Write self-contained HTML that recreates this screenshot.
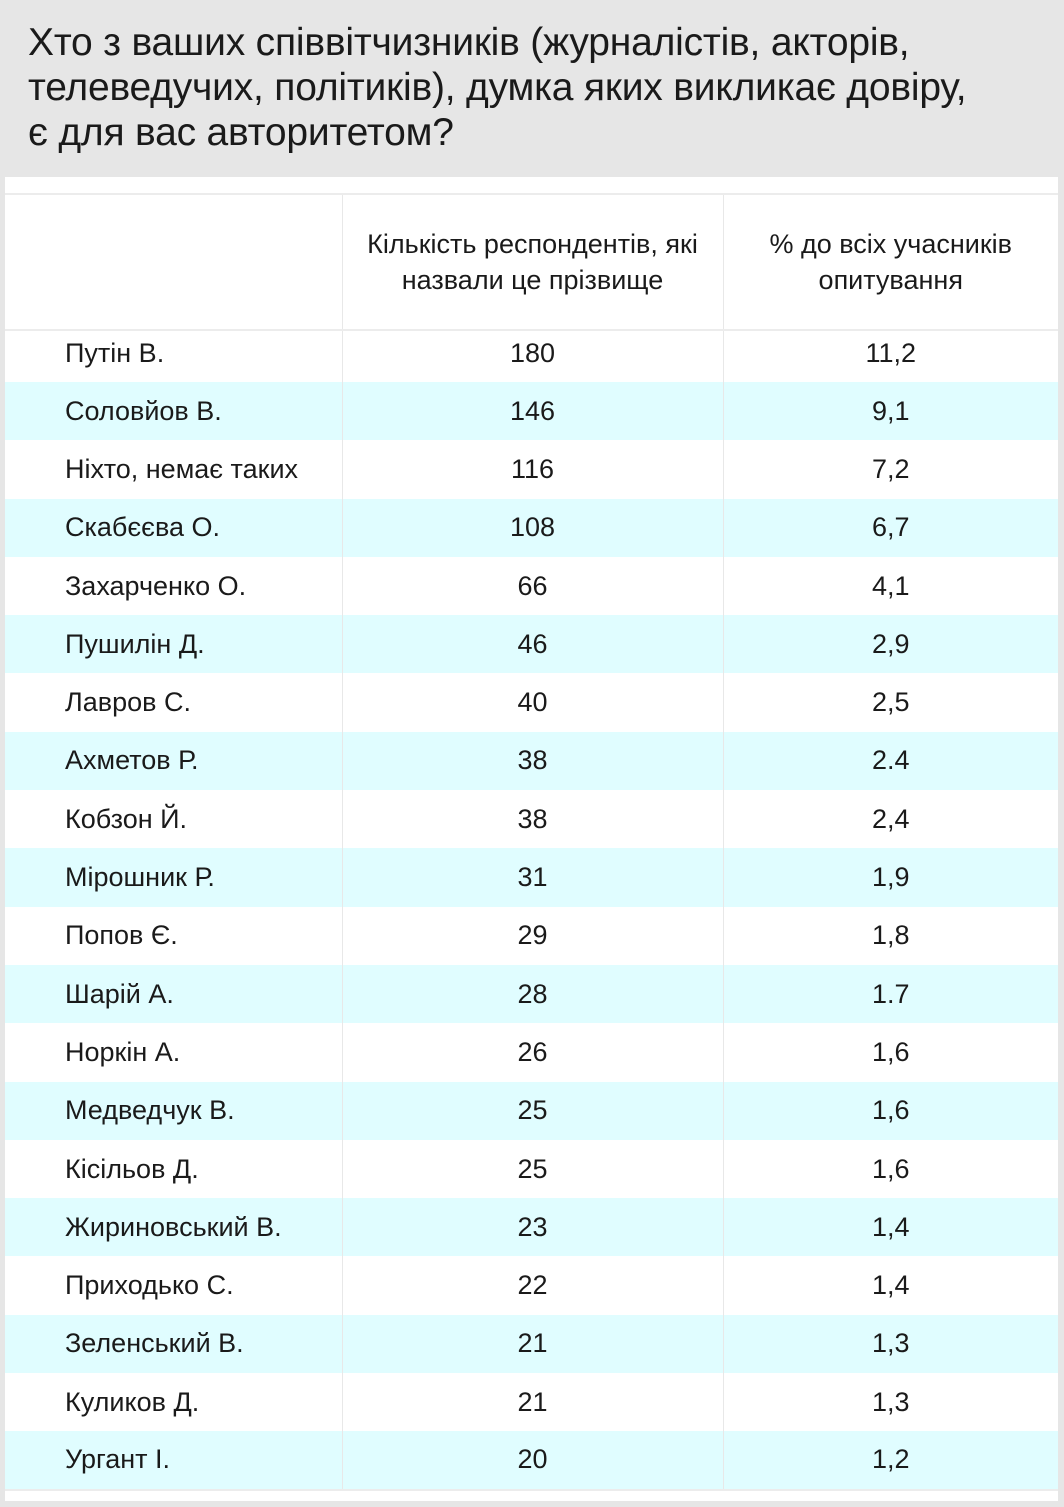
<!DOCTYPE html>
<html><head><meta charset="utf-8"><style>
body{margin:0;width:1064px;height:1507px;background:#e6e6e6;font-family:"Liberation Sans",sans-serif;color:#1a1a1a;overflow:hidden;position:relative}
.title{position:absolute;left:28px;top:20px;font-size:39px;line-height:45px;letter-spacing:-0.2px;white-space:nowrap}
.panel{position:absolute;left:5px;top:177px;width:1053px;height:1324px;background:#fff}
table{position:absolute;left:0;top:16px;width:1053px;border-collapse:collapse;border-top:2px solid #ececec;border-bottom:2px solid #ececec}
td{font-size:27px;height:58.3px;padding:0;text-align:center;box-sizing:border-box}
td:first-child{text-align:left;padding-left:60px;width:337px;border-right:1px solid #e8e8e8}
td:nth-child(2){width:381px;border-right:1px solid #e8e8e8}
tr.h td{height:136px;font-size:27px;line-height:36px;border-bottom:2px solid #ececec}
tr.f td{height:52px;padding-bottom:6px}
tr:nth-child(odd):not(.h) td{background:#e0fdff}
</style></head><body>
<div class="title">Хто з ваших співвітчизників (журналістів, акторів,<br>телеведучих, політиків), думка яких викликає довіру,<br>є для вас авторитетом?</div>
<div class="panel"><table>
<tr class="h"><td></td><td>Кількість респондентів, які<br>назвали це прізвище</td><td>% до всіх учасників<br>опитування</td></tr>
<tr class="f"><td>Путін В.</td><td>180</td><td>11,2</td></tr>
<tr><td>Соловйов В.</td><td>146</td><td>9,1</td></tr>
<tr><td>Ніхто, немає таких</td><td>116</td><td>7,2</td></tr>
<tr><td>Скабєєва О.</td><td>108</td><td>6,7</td></tr>
<tr><td>Захарченко О.</td><td>66</td><td>4,1</td></tr>
<tr><td>Пушилін Д.</td><td>46</td><td>2,9</td></tr>
<tr><td>Лавров С.</td><td>40</td><td>2,5</td></tr>
<tr><td>Ахметов Р.</td><td>38</td><td>2.4</td></tr>
<tr><td>Кобзон Й.</td><td>38</td><td>2,4</td></tr>
<tr><td>Мірошник Р.</td><td>31</td><td>1,9</td></tr>
<tr><td>Попов Є.</td><td>29</td><td>1,8</td></tr>
<tr><td>Шарій А.</td><td>28</td><td>1.7</td></tr>
<tr><td>Норкін А.</td><td>26</td><td>1,6</td></tr>
<tr><td>Медведчук В.</td><td>25</td><td>1,6</td></tr>
<tr><td>Кісільов Д.</td><td>25</td><td>1,6</td></tr>
<tr><td>Жириновський В.</td><td>23</td><td>1,4</td></tr>
<tr><td>Приходько С.</td><td>22</td><td>1,4</td></tr>
<tr><td>Зеленський В.</td><td>21</td><td>1,3</td></tr>
<tr><td>Куликов Д.</td><td>21</td><td>1,3</td></tr>
<tr><td>Ургант І.</td><td>20</td><td>1,2</td></tr>
</table></div>
</body></html>
